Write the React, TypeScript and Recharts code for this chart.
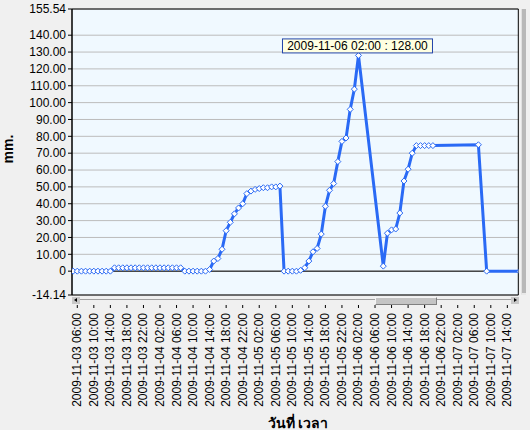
import React from 'react';
import {
  LineChart, Line, XAxis, YAxis, CartesianGrid, ReferenceLine, ReferenceArea, LabelList,
} from 'recharts';

// rainfall (mm.), one reading per hour.
// hours are counted from 2009-11-03 06:00
const hours = [
  -1, 0, 1, 2, 3, 4, 5, 6, 7, 8,
  9, 10, 11, 12, 13, 14, 15, 16, 17, 18, 19, 20, 21, 22, 23, 24, 25,
  26, 27, 28, 29, 30, 31,
  32, 33, 34, 35, 36, 37, 38, 39, 40, 41, 42, 43, 44, 45, 46, 47, 48, 49,
  50, 51, 52, 53,
  54, 55, 56, 57, 58, 59, 60, 61, 62, 63, 64, 65, 66, 67, 68,
  74, 75, 76, 77, 78, 79, 80, 81, 82, 83, 84, 85, 86,
  97, 99, 107,
];
const mmValues = [
  0, 0, 0, 0, 0, 0, 0, 0, 0, 0,
  2, 2, 2, 2, 2, 2, 2, 2, 2, 2, 2, 2, 2, 2, 2, 2, 2,
  0, 0, 0, 0, 0, 0,
  1, 6, 7.5, 13, 24, 29, 34, 37.5, 40, 46, 47.5, 48.5, 49, 49.5, 49.5, 50, 50, 50.5,
  0, 0, 0, 0,
  0.5, 2, 6, 11.5, 13.5, 22, 38.5, 48, 52, 65, 77, 79, 96, 108, 128,
  3, 22.5, 24.5, 25, 34.5, 53.5, 60.5, 70, 74.5, 74.5, 74.5, 74.5, 74.5,
  75, 0, 0,
];

const xTickLabels = [
  '2009-11-03 06:00', '2009-11-03 10:00', '2009-11-03 14:00', '2009-11-03 18:00', '2009-11-03 22:00',
  '2009-11-04 02:00', '2009-11-04 06:00', '2009-11-04 10:00', '2009-11-04 14:00', '2009-11-04 18:00',
  '2009-11-04 22:00', '2009-11-05 02:00', '2009-11-05 06:00', '2009-11-05 10:00', '2009-11-05 14:00',
  '2009-11-05 18:00', '2009-11-05 22:00', '2009-11-06 02:00', '2009-11-06 06:00', '2009-11-06 10:00',
  '2009-11-06 14:00', '2009-11-06 18:00', '2009-11-06 22:00', '2009-11-07 02:00', '2009-11-07 06:00',
  '2009-11-07 10:00', '2009-11-07 14:00',
];
const yTicks = [-14.14, 0, 10, 20, 30, 40, 50, 60, 70, 80, 90, 100, 110, 120, 130, 140, 155.54];

const START = Date.UTC(2009, 10, 3, 6, 0);
const FONT = '"Liberation Sans", Arial, sans-serif';
const BLUE = '#2a6af5';

const toHours = (label: string) => {
  const [d, t] = label.split(' ');
  const [yy, mo, dd] = d.split('-').map(Number);
  const [hh, mi] = t.split(':').map(Number);
  return (Date.UTC(yy, mo - 1, dd, hh, mi) - START) / 3600000;
};
const pad = (n: number) => String(n).padStart(2, '0');
const toLabel = (h: number) => {
  const d = new Date(START + h * 3600000);
  return `${d.getUTCFullYear()}-${pad(d.getUTCMonth() + 1)}-${pad(d.getUTCDate())} ${pad(d.getUTCHours())}:${pad(d.getUTCMinutes())}`;
};

const data = hours.map((h, i) => ({ h, mm: mmValues[i] }));
const xTicks = xTickLabels.map(toHours);
const peakIndex = mmValues.indexOf(Math.max(...mmValues));

const X_DOMAIN: [number, number] = [-1.28, 106.65];

const XTick = ({ x, y, payload }: any) => {
  const ty = y + 18;
  return (
    <g>
      <line x1={x} x2={x} y1={y + 10} y2={y + 13} stroke="#000" />
      <text
        x={x}
        y={ty}
        transform={`rotate(-90 ${x} ${ty})`}
        textAnchor="end"
        dominantBaseline="central"
        fontSize={12}
        fontFamily={FONT}
        fill="#000"
      >
        {toLabel(payload.value)}
      </text>
    </g>
  );
};

const Diamond = (props: any) => {
  const { cx, cy, index } = props;
  if (cx == null || cy == null) return <g key={`d-${index}`} />;
  return (
    <path
      key={`d-${index}`}
      d={`M${cx},${cy - 3}L${cx + 3},${cy}L${cx},${cy + 3}L${cx - 3},${cy}Z`}
      fill="#fff"
      stroke={BLUE}
      strokeWidth={1}
    />
  );
};

const PeakBox = (props: any) => {
  const { x, y, value, index } = props;
  if (index !== peakIndex) return null;
  const text = `${toLabel(hours[index])} : ${Number(value).toFixed(2)}`;
  return (
    <g>
      <rect x={x - 76} y={y - 16.5} width={150} height={14} fill="#ffffe1" stroke="#2244aa" />
      <text x={x - 1} y={y - 9.5} textAnchor="middle" dominantBaseline="central" fontSize={12} fontFamily={FONT} fill="#000">
        {text}
      </text>
    </g>
  );
};

const YTitle = () => (
  <text x={13} y={149} transform="rotate(-90 13 149)" textAnchor="middle" fontSize={14} fontWeight="bold" fontFamily={FONT} fill="#000">
    mm.
  </text>
);

const XTitle = () => (
  <text x={298} y={428} textAnchor="middle" fontSize={14} fontWeight="bold" fontFamily={FONT} fill="#000">
    วันที่ เวลา
  </text>
);

export default function App() {
  return (
    <div style={{ position: 'absolute', left: 0, top: 0, width: 530, height: 430, background: '#f0f0f0', fontFamily: FONT }}>
      <LineChart width={530} height={430} data={data} margin={{ top: 9, right: 11.7, bottom: 0, left: 0 }}>
        <CartesianGrid vertical={false} stroke="#bcbcbc" fill="#f0f9ff" fillOpacity={1} />
        <XAxis
          type="number"
          dataKey="h"
          domain={X_DOMAIN}
          allowDataOverflow
          ticks={xTicks}
          interval={0}
          tick={<XTick />}
          tickSize={0}
          tickMargin={0}
          axisLine={false}
          tickLine={false}
          height={135}
          label={<XTitle />}
        />
        <YAxis
          type="number"
          domain={[-14.14, 155.54]}
          allowDataOverflow
          ticks={yTicks}
          interval={0}
          width={72}
          tickSize={4}
          tickMargin={2}
          axisLine={{ stroke: '#000' }}
          tickLine={{ stroke: '#000' }}
          tick={{ fill: '#000', fontSize: 12, fontFamily: FONT }}
          tickFormatter={(v: number) => (v === 0 ? '0' : v.toFixed(2))}
          label={<YTitle />}
        />
        <ReferenceLine y={0} stroke="#000" strokeWidth={1} />
        <ReferenceArea x1={X_DOMAIN[0]} x2={X_DOMAIN[1]} y1={-14.14} y2={155.54} fill="none" stroke="#000" strokeWidth={1} />
        <Line
          type="linear"
          dataKey="mm"
          stroke={BLUE}
          strokeWidth={3}
          dot={Diamond}
          activeDot={false}
          isAnimationActive={false}
        >
          <LabelList dataKey="mm" content={PeakBox} />
        </Line>
      </LineChart>

      {/* scrollbars of the original viewer */}
      <div style={{ position: 'absolute', left: 80, top: 299, width: 431, height: 1, background: '#a0a0a0' }} />
      <div style={{ position: 'absolute', left: 375, top: 297, width: 60, height: 6, background: '#c4c4c4', borderTop: '1px solid #f4f4f4', borderLeft: '1px solid #f4f4f4', borderRight: '1px solid #808080', borderBottom: '1px solid #808080' }} />
      <div style={{ position: 'absolute', left: 72, top: 297, width: 8, height: 7, background: '#c8c8c8' }}>
        <div style={{ position: 'absolute', left: 2, top: 1, width: 0, height: 0, borderTop: '2.5px solid transparent', borderBottom: '2.5px solid transparent', borderRight: '3px solid #000' }} />
      </div>
      <div style={{ position: 'absolute', left: 511, top: 297, width: 8, height: 7, background: '#c8c8c8' }}>
        <div style={{ position: 'absolute', left: 3, top: 1, width: 0, height: 0, borderTop: '2.5px solid transparent', borderBottom: '2.5px solid transparent', borderLeft: '3px solid #000' }} />
      </div>
      <div style={{ position: 'absolute', left: 521, top: 9, width: 4, height: 284, background: '#b8b8b8', borderLeft: '1px solid #e0e0e0', borderBottom: '2px solid #e8e8e8' }} />
    </div>
  );
}
